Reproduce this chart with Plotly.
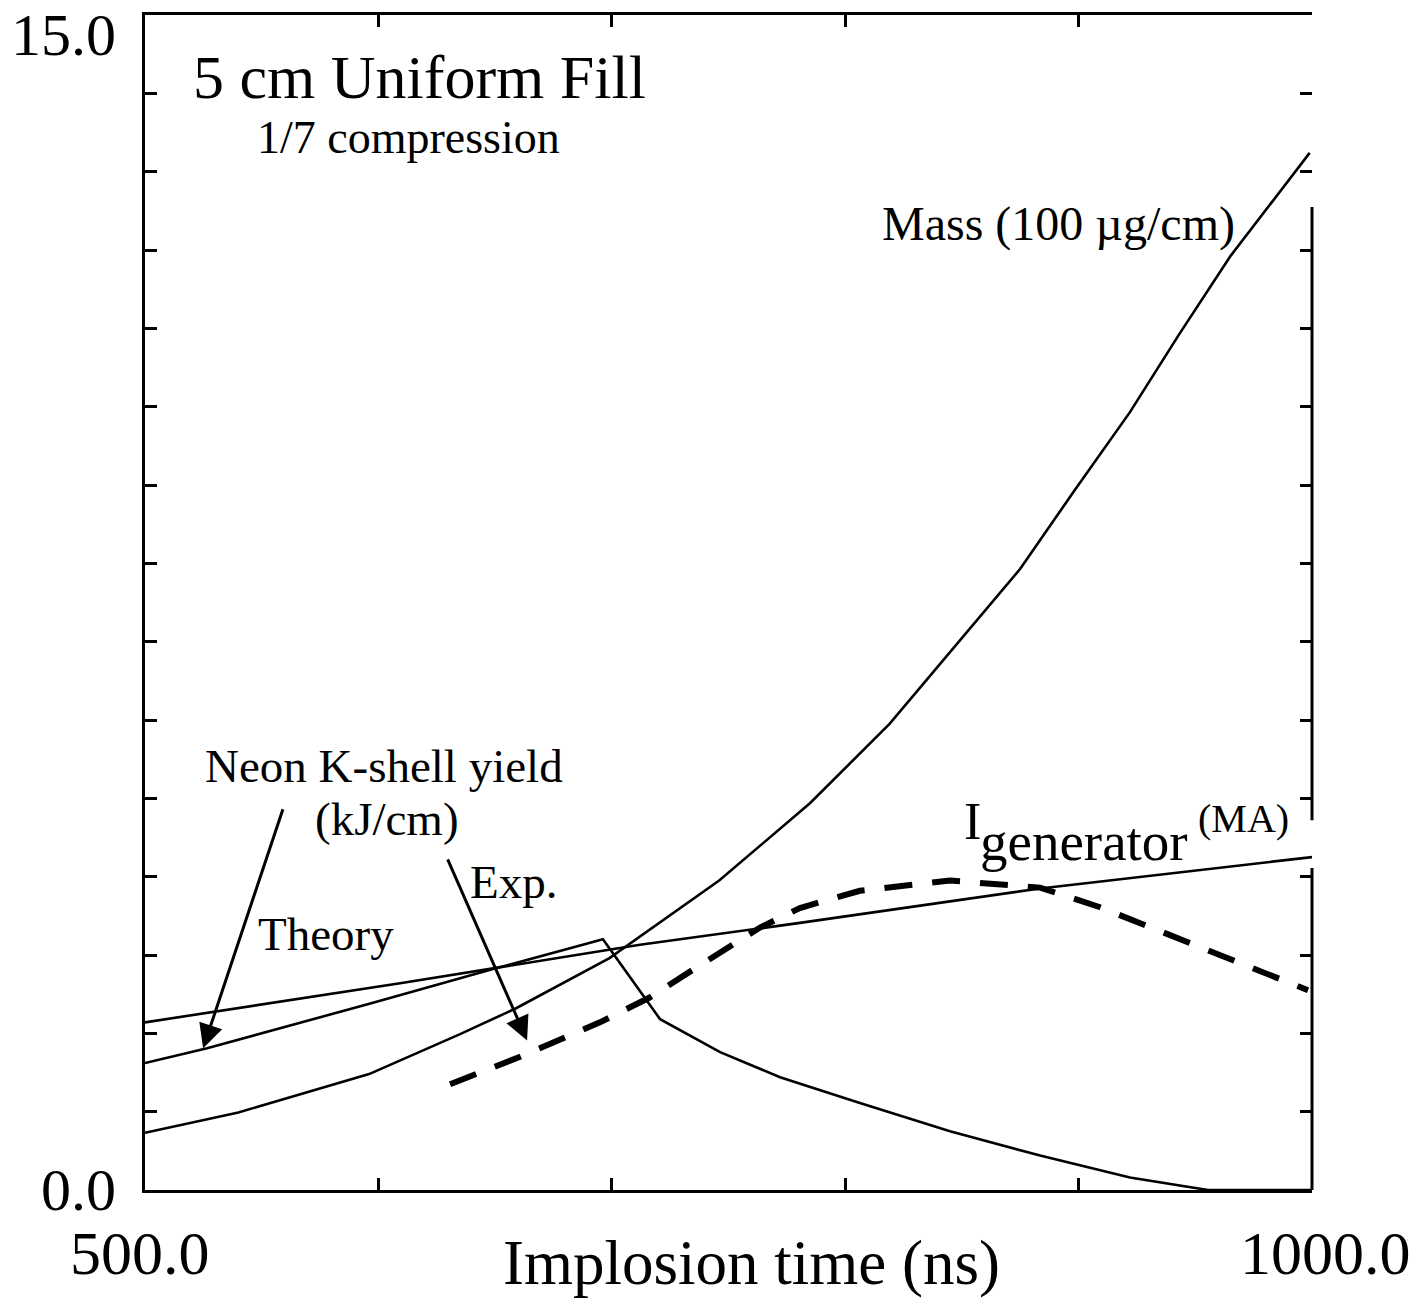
import plotly.graph_objects as go

# Implosion time axis (ns) and curve samples
mass_t = [500, 540, 596, 635, 659, 699, 746, 785, 819, 847, 875, 898, 922, 943, 965, 999]
mass_v = [0.73, 0.99, 1.48, 1.99, 2.32, 2.96, 3.95, 4.94, 5.95, 6.94, 7.93, 8.92, 9.93, 10.92, 11.92, 13.24]

theory_t = [500, 526.6, 597.7, 649.1, 696.2, 720.7, 746.4, 772.1, 806.3, 844.9, 883.5, 922.0, 955.4, 1000]
theory_v = [1.62, 1.81, 2.39, 2.82, 3.20, 2.18, 1.76, 1.44, 1.11, 0.75, 0.44, 0.16, 0.0, 0.0]

igen_t = [500, 609.3, 712.1, 780.6, 883.5, 1000]
igen_v = [2.14, 2.64, 3.13, 3.41, 3.85, 4.25]

exp_t = [630.7, 660.7, 694.9, 716.4, 737.8, 763.5, 780.6, 806.3, 844.9, 883.5, 909.2, 943.4, 973.5, 998.3]
exp_v = [1.35, 1.70, 2.14, 2.46, 2.87, 3.35, 3.60, 3.82, 3.95, 3.86, 3.61, 3.20, 2.84, 2.55]

x_range = [500, 1000]
y_range = [0, 15]
x_tick_labels = {500: "500.0", 1000: "1000.0"}
y_tick_labels = {0: "0.0", 15: "15.0"}

FONT = "Liberation Serif, Times New Roman, serif"
INK = "black"

fig = go.Figure()

solid = dict(color=INK, width=2.6)
fig.add_trace(go.Scatter(x=mass_t, y=mass_v, mode="lines", line=solid,
                         hoverinfo="skip", showlegend=False))
fig.add_trace(go.Scatter(x=theory_t, y=theory_v, mode="lines", line=solid,
                         hoverinfo="skip", showlegend=False))
fig.add_trace(go.Scatter(x=igen_t, y=igen_v, mode="lines", line=solid,
                         hoverinfo="skip", showlegend=False))
# experimental yield drawn on the mirrored axes so the top/right ticks render
fig.add_trace(go.Scatter(x=exp_t, y=exp_v, mode="lines",
                         line=dict(color=INK, width=6, dash="28px,20px"),
                         xaxis="x2", yaxis="y2",
                         hoverinfo="skip", showlegend=False))

axis_common = dict(showgrid=False, zeroline=False, ticks="inside",
                   ticklen=12, tickwidth=2.5, tickcolor=INK,
                   showticklabels=False)

fig.update_layout(
    width=1424, height=1300,
    margin=dict(l=145, r=112, t=15, b=110),
    paper_bgcolor="white", plot_bgcolor="white",
    font=dict(family=FONT, color=INK),
    xaxis=dict(range=x_range, dtick=100, tick0=500, showline=True,
               linewidth=3, linecolor=INK, mirror=True, **axis_common),
    yaxis=dict(range=y_range, dtick=1, tick0=0, showline=True,
               linewidth=3, linecolor=INK, mirror=False, **axis_common),
    xaxis2=dict(range=x_range, dtick=100, tick0=500, overlaying="x",
                side="top", anchor="y2", showline=False, **axis_common),
    yaxis2=dict(range=y_range, dtick=1, tick0=0, overlaying="y",
                side="right", anchor="x2", showline=False, **axis_common),
)

# right frame edge, broken where the labels sit
for y0, y1 in [(0, 4.11), (4.72, 12.55)]:
    fig.add_shape(type="line", xref="paper", yref="y", x0=1, x1=1, y0=y0, y1=y1,
                  line=dict(color=INK, width=3))

ann = []
big = 62
for v, s in y_tick_labels.items():
    ann.append(dict(xref="paper", yref="y", x=0, y=v, text=s, showarrow=False,
                    xanchor="right", yanchor="middle", xshift=-27,
                    yshift=-20 if v == 15 else 0, font=dict(size=60)))
for v, s in x_tick_labels.items():
    ann.append(dict(xref="x", yref="paper", x=v, y=0, text=s, showarrow=False,
                    xanchor="center", yanchor="middle",
                    xshift=-5 if v == 500 else 13, yshift=-63, font=dict(size=big)))
ann.append(dict(xref="paper", yref="paper", x=0.52, y=0, text="Implosion time (ns)",
                showarrow=False, xanchor="center", yanchor="middle", yshift=-73,
                font=dict(size=63)))

def label(x, y, text, size):
    ann.append(dict(xref="x", yref="y", x=x, y=y, text=text, showarrow=False,
                    xanchor="left", yanchor="middle", font=dict(size=size)))

label(519.5, 14.21, "5 cm Uniform Fill", 62)
label(547.0, 13.43, "1/7 compression", 46)
label(815.0, 12.33, "Mass (100 µg/cm)", 48)
label(525.0, 5.41, "Neon K-shell yield", 47)
label(572.0, 4.74, "(kJ/cm)", 47)
label(638.5, 3.93, "Exp.", 47)
label(547.5, 3.27, "Theory", 47)
label(850.0, 4.70, "I", 52)
label(857.0, 4.45, "generator", 55)
label(950.5, 4.74, "(MA)", 40)

def arrow(tail_x, tail_y, tip_x, tip_y):
    ann.append(dict(xref="x", yref="y", axref="x", ayref="y",
                    x=tip_x, y=tip_y, ax=tail_x, ay=tail_y, text="",
                    showarrow=True, arrowhead=2, arrowsize=1.6, arrowwidth=3,
                    arrowcolor=INK, standoff=0, startstandoff=0))

arrow(559.3, 4.88, 524.9, 1.81)
arrow(629.4, 4.24, 663.7, 1.91)

fig.update_layout(annotations=ann)
fig.write_html("out.html")
